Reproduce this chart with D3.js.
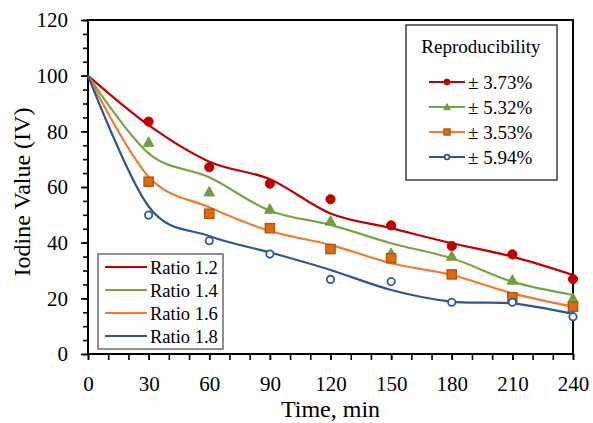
<!DOCTYPE html>
<html>
<head>
<meta charset="utf-8">
<script src="https://cdn.jsdelivr.net/npm/d3@7"></script>
<style>
  html, body { margin: 0; padding: 0; background: #fff; }
  svg { display: block; }
  svg text { font-family: 'Liberation Serif', 'Tinos', 'DejaVu Serif', serif !important; }
</style>
</head>
<body>
<svg id="chart" width="593" height="423"></svg>
<script>
// Reaction time (min) at which iodine value was followed
const times = [0, 30, 60, 90, 120, 150, 180, 210, 240];
const sampleTimes = [30, 60, 90, 120, 150, 180, 210, 240];

// Series labels
const ratioLabels = ["Ratio 1.2", "Ratio 1.4", "Ratio 1.6", "Ratio 1.8"];
const reproLabels = ["\u00B1 3.73%", "\u00B1 5.32%", "\u00B1 3.53%", "\u00B1 5.94%"];

// Measured iodine values (markers)
const measured12 = [83.5, 67.1, 61.2, 55.6, 46.2, 38.8, 35.8, 26.9];
const measured14 = [76.1, 58.3, 52.1, 47.8, 36.2, 35.2, 26.6, 20.0];
const measured16 = [61.9, 50.4, 45.2, 37.7, 34.4, 28.6, 20.4, 17.0];
const measured18 = [49.9, 40.7, 35.9, 26.8, 26.0, 18.6, 18.6, 13.4];

// Model curves (lines)
const model12 = [100, 82.2, 69.1, 62.8, 50.5, 45.2, 39.8, 35.0, 28.4];
const model14 = [100, 72.1, 63.5, 51.5, 46.4, 39.8, 34.4, 26.0, 21.2];
const model16 = [100, 63.7, 52.7, 44.2, 39.2, 32.6, 28.4, 21.8, 17.0];
const model18 = [100, 53.0, 42.4, 36.5, 30.2, 23.0, 18.8, 18.2, 14.4];

// Axis ticks
const xMajorTicks = [0, 30, 60, 90, 120, 150, 180, 210, 240];
const xMinorTicks = d3.range(0, 241, 10);
const yMajorTicks = [0, 20, 40, 60, 80, 100, 120];
const yMinorTicks = d3.range(0, 121, 5);

const FONT = "'Liberation Serif', 'Tinos', 'DejaVu Serif', serif";

const styles = [
  { line: "#C00000", fill: "#C00000", stroke: "#C00000", shape: "circle" },
  { line: "#7AA446", fill: "#739E3F", stroke: "#739E3F", shape: "triangle" },
  { line: "#ED7D31", fill: "#E2690C", stroke: "#B0560F", shape: "square" },
  { line: "#2F5597", fill: "#ffffff", stroke: "#2E5C9A", shape: "ring" }
];

const measured = [measured12, measured14, measured16, measured18];
const models = [model12, model14, model16, model18];

const svg = d3.select("#chart").attr("font-family", FONT);
svg.append("rect").attr("width", 593).attr("height", 423).attr("fill", "#fff");

const plot = { left: 88, right: 573, top: 20, bottom: 354 };
const x = d3.scaleLinear().domain([0, 240]).range([plot.left, plot.right]);
const y = d3.scaleLinear().domain([0, 120]).range([plot.bottom, plot.top]);

function styleAxis(g) {
  g.attr("font-family", FONT);
  g.select(".domain").remove();
  g.selectAll("line").attr("stroke", "#000").attr("stroke-width", 1.6);
  g.selectAll("text").attr("fill", "#000").attr("font-family", FONT).attr("font-size", 21);
}

// Minor ticks
svg.append("g").attr("transform", `translate(0,${plot.bottom})`)
  .call(d3.axisBottom(x).tickValues(xMinorTicks).tickSize(6).tickFormat(""))
  .call(styleAxis);
svg.append("g").attr("transform", `translate(${plot.left},0)`)
  .call(d3.axisLeft(y).tickValues(yMinorTicks).tickSize(5).tickFormat(""))
  .call(styleAxis);

// Major ticks with labels
svg.append("g").attr("transform", `translate(0,${plot.bottom})`)
  .call(d3.axisBottom(x).tickValues(xMajorTicks).tickSize(6).tickPadding(16))
  .call(styleAxis);
svg.append("g").attr("transform", `translate(${plot.left},0)`)
  .call(d3.axisLeft(y).tickValues(yMajorTicks).tickSize(7).tickPadding(13))
  .call(styleAxis);

// Plot frame
svg.append("rect")
  .attr("x", plot.left).attr("y", plot.top)
  .attr("width", plot.right - plot.left).attr("height", plot.bottom - plot.top)
  .attr("fill", "none").attr("stroke", "#000").attr("stroke-width", 2);

// Axis titles
svg.append("text")
  .attr("x", (plot.left + plot.right) / 2).attr("y", 417)
  .attr("text-anchor", "middle").attr("font-size", 24).attr("fill", "#000")
  .text("Time, min");
svg.append("text")
  .attr("transform", `translate(30,${(plot.top + plot.bottom) / 2 + 5}) rotate(-90)`)
  .attr("text-anchor", "middle").attr("font-size", 24).attr("fill", "#000")
  .text("Iodine Value (IV)");

// Model curves
const line = d3.line()
  .x((d, i) => x(times[i]))
  .y(d => y(d))
  .curve(d3.curveCardinal.tension(0));

models.forEach((m, k) => {
  svg.append("path").datum(m)
    .attr("d", line)
    .attr("fill", "none")
    .attr("stroke", styles[k].line)
    .attr("stroke-width", 2.2);
});

// Marker drawing helper
function drawMarker(g, cx, cy, st, size) {
  if (st.shape === "circle") {
    g.append("circle").attr("cx", cx).attr("cy", cy).attr("r", size)
      .attr("fill", st.fill).attr("stroke", st.stroke).attr("stroke-width", 1);
  } else if (st.shape === "triangle") {
    const s = size * 1.15;
    g.append("path")
      .attr("d", `M${cx},${cy - s} L${cx + s},${cy + s * 0.8} L${cx - s},${cy + s * 0.8} Z`)
      .attr("fill", st.fill).attr("stroke", st.stroke).attr("stroke-width", 1);
  } else if (st.shape === "square") {
    g.append("rect").attr("x", cx - size).attr("y", cy - size)
      .attr("width", size * 2).attr("height", size * 2)
      .attr("fill", st.fill).attr("stroke", st.stroke).attr("stroke-width", 1.4);
  } else {
    g.append("circle").attr("cx", cx).attr("cy", cy).attr("r", size * 0.8)
      .attr("fill", "#fff").attr("stroke", st.stroke).attr("stroke-width", 1.8);
  }
}

// Measured points
measured.forEach((vals, k) => {
  const g = svg.append("g");
  vals.forEach((v, i) => drawMarker(g, x(sampleTimes[i]), y(v), styles[k], 4.6));
});

// Reproducibility legend
const leg1 = svg.append("g");
leg1.append("rect").attr("x", 406).attr("y", 25).attr("width", 151).attr("height", 155)
  .attr("fill", "#fff").attr("stroke", "#222").attr("stroke-width", 1.3);
leg1.append("text").attr("x", 481).attr("y", 53).attr("text-anchor", "middle")
  .attr("font-size", 19).attr("fill", "#000").text("Reproducibility");
reproLabels.forEach((lab, k) => {
  const cy = 82 + k * 25;
  leg1.append("line").attr("x1", 429).attr("x2", 465).attr("y1", cy).attr("y2", cy)
    .attr("stroke", styles[k].line).attr("stroke-width", 2);
  drawMarker(leg1, 447, cy, styles[k], 3);
  leg1.append("text").attr("x", 468).attr("y", cy + 6.5)
    .attr("font-size", 19).attr("fill", "#000").text(lab);
});

// Ratio legend
const leg2 = svg.append("g");
leg2.append("rect").attr("x", 98).attr("y", 254).attr("width", 125).attr("height", 95)
  .attr("fill", "#fff").attr("stroke", "#6b6b6b").attr("stroke-width", 1.5);
ratioLabels.forEach((lab, k) => {
  const cy = 267 + k * 23;
  leg2.append("line").attr("x1", 105).attr("x2", 147).attr("y1", cy).attr("y2", cy)
    .attr("stroke", styles[k].line).attr("stroke-width", 2.2);
  leg2.append("text").attr("x", 150).attr("y", cy + 6.5)
    .attr("font-size", 18.5).attr("fill", "#000").text(lab);
});
</script>
</body>
</html>
